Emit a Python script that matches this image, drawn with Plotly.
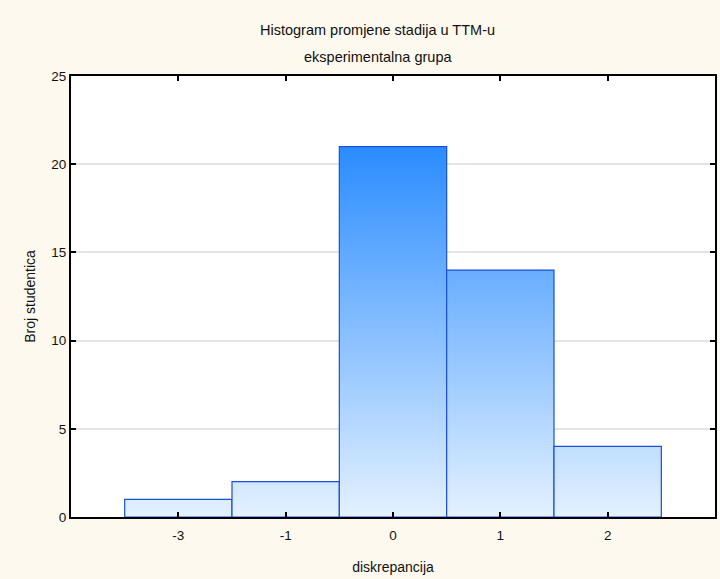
import plotly.graph_objects as go

# histogram data
categories = ["-3", "-1", "0", "1", "2"]
counts = [1, 2, 21, 14, 4]

title_line1 = "Histogram promjene stadija u TTM-u"
title_line2 = "eksperimentalna grupa"
x_title = "diskrepancija"
y_title = "Broj studentica"

FONT = "Liberation Sans, Arial, sans-serif"
PAPER = "#fdf9ee"
EDGE = "#1a4fd8"

fig = go.Figure()

# each bar is a filled polygon so it can carry the vertical gradient
for i, (cat, n) in enumerate(zip(categories, counts)):
    fig.add_trace(go.Scatter(
        x=[i - 0.5, i - 0.5, i + 0.5, i + 0.5, i - 0.5],
        y=[0, n, n, 0, 0],
        mode="lines",
        fill="toself",
        fillgradient=dict(
            type="vertical",
            colorscale=[[0, "#e4f1ff"], [1, "#2a8cff"]],
            start=0,
            stop=max(counts),
        ),
        line=dict(color=EDGE, width=1.2),
        name=cat,
        hoveron="fills",
        hovertemplate=f"{cat}: {n}<extra></extra>",
        showlegend=False,
    ))

fig.update_layout(
    width=720, height=579,
    paper_bgcolor=PAPER,
    plot_bgcolor="white",
    font=dict(family=FONT, size=13.5, color="#111"),
    margin=dict(l=71, r=3, t=76, b=62),
    xaxis=dict(
        range=[-1, 5],
        tickvals=list(range(len(categories))),
        ticktext=categories,
        showgrid=False, zeroline=False,
        showline=True, linecolor="black", linewidth=2,
        mirror="ticks", ticks="inside", ticklen=5, tickcolor="black",
        tickwidth=1.5, ticklabelstandoff=5,
        title=dict(text=x_title, standoff=20, font=dict(size=14)),
    ),
    yaxis=dict(
        range=[0, 25], dtick=5,
        showgrid=True, gridcolor="#e4e4e4", gridwidth=1.5, zeroline=False,
        showline=True, linecolor="black", linewidth=2,
        mirror="ticks", ticks="inside", ticklen=5, tickcolor="black",
        tickwidth=1.5,
        title=dict(text=y_title, standoff=12, font=dict(size=14)),
    ),
    annotations=[
        dict(text=title_line1, xref="paper", yref="paper", x=0.476, y=1.0,
             yshift=46, showarrow=False, xanchor="center", yanchor="middle",
             font=dict(size=14.5)),
        dict(text=title_line2, xref="paper", yref="paper", x=0.476, y=1.0,
             yshift=19, showarrow=False, xanchor="center", yanchor="middle",
             font=dict(size=14.5)),
    ],
)

# drop the default page margin so the figure sits at the window origin
fig.write_html("out.html", config={"displayModeBar": False},
               post_script="document.body.style.margin='0';")
